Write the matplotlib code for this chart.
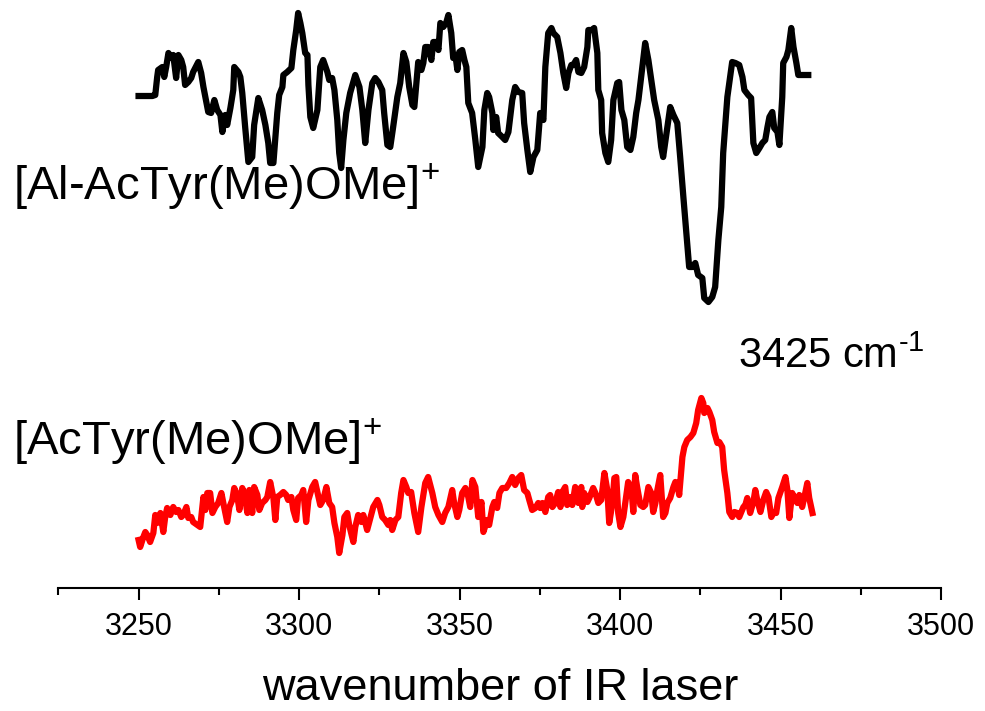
import matplotlib
matplotlib.use("Agg")
import matplotlib.pyplot as plt
from matplotlib.ticker import MultipleLocator

plt.rcParams['font.family'] = ['Liberation Sans', 'DejaVu Sans']
plt.rcParams['mathtext.fontset'] = 'custom'
plt.rcParams['mathtext.rm'] = 'Liberation Sans'
plt.rcParams['mathtext.it'] = 'Liberation Sans'

# Al-complex trace (arbitrary intensity units, offset upward)
al_wn = [3250.0, 3254.3, 3255.2, 3255.8, 3256.1, 3257.4, 3258.0, 3258.6, 3259.3, 3260.2,
         3260.8, 3261.7, 3262.4, 3263.3, 3263.9, 3264.5, 3265.5, 3266.4, 3267.0, 3268.6,
         3269.5, 3270.2, 3270.8, 3271.7, 3272.6, 3273.6, 3274.5, 3275.5, 3276.1, 3277.0,
         3277.6, 3278.6, 3279.5, 3279.8, 3281.1, 3281.7, 3282.3, 3283.2, 3284.2, 3285.4,
         3286.0, 3287.3, 3288.5, 3289.5, 3290.4, 3291.0, 3292.0, 3293.2, 3293.8, 3294.8,
         3295.1, 3296.3, 3297.6, 3298.2, 3299.1, 3299.7, 3300.4, 3301.0, 3301.9, 3302.6,
         3302.9, 3303.5, 3304.4, 3305.7, 3306.6, 3307.5, 3308.8, 3309.4, 3310.3, 3311.0,
         3311.9, 3312.5, 3313.1, 3313.8, 3314.7, 3315.9, 3317.5, 3318.8, 3319.7, 3320.6,
         3321.6, 3322.8, 3323.7, 3324.7, 3325.9, 3326.5, 3327.5, 3328.4, 3329.3, 3330.6,
         3331.5, 3332.5, 3333.4, 3334.3, 3335.3, 3335.9, 3336.8, 3337.1, 3338.1, 3338.7,
         3339.3, 3340.2, 3341.2, 3341.8, 3342.7, 3343.4, 3344.0, 3344.9, 3345.8, 3346.5,
         3347.4, 3348.0, 3348.7, 3349.3, 3349.9, 3350.8, 3351.5, 3352.1, 3352.7, 3353.9,
         3354.9, 3355.8, 3357.1, 3357.7, 3358.6, 3359.2, 3360.2, 3360.5, 3361.4, 3362.0,
         3363.3, 3364.2, 3365.2, 3366.4, 3367.3, 3368.3, 3369.5, 3370.1, 3371.1, 3372.0,
         3373.0, 3374.2, 3375.1, 3376.1, 3376.7, 3377.6, 3378.6, 3379.2, 3380.4, 3381.4,
         3382.3, 3383.2, 3383.9, 3384.8, 3385.4, 3386.3, 3387.0, 3387.9, 3388.8, 3389.8,
         3390.1, 3391.3, 3391.9, 3392.9, 3393.2, 3394.1, 3394.4, 3395.4, 3396.3, 3397.2,
         3397.9, 3399.1, 3399.7, 3400.4, 3401.3, 3402.2, 3403.2, 3404.1, 3405.0, 3405.7,
         3406.9, 3407.8, 3408.8, 3410.0, 3410.6, 3411.9, 3412.8, 3413.4, 3414.7, 3415.6,
         3416.6, 3417.8, 3418.7, 3419.7, 3420.9, 3421.5, 3422.5, 3423.4, 3424.3, 3425.6,
         3426.2, 3427.5, 3428.7, 3429.6, 3430.6, 3431.5, 3432.1, 3433.4, 3434.0, 3434.9,
         3435.9, 3437.1, 3438.1, 3438.7, 3439.9, 3440.8, 3441.5, 3442.4, 3443.4, 3444.3,
         3445.2, 3445.9, 3446.5, 3447.4, 3448.0, 3449.0, 3449.6, 3450.5, 3450.8, 3451.8,
         3452.4, 3453.3, 3454.0, 3454.9, 3455.5, 3458.6]
al_int = [492, 492, 493, 511, 518, 521, 511, 521, 535, 530,
          533, 510, 533, 528, 521, 503, 506, 510, 516, 526,
          515, 501, 491, 476, 475, 488, 478, 473, 456, 473,
          463, 480, 498, 521, 516, 511, 495, 461, 426, 431,
          463, 490, 478, 463, 445, 425, 425, 475, 493, 501,
          513, 516, 520, 538, 558, 575, 565, 555, 535, 533,
          503, 471, 460, 478, 521, 528, 516, 508, 510, 498,
          468, 435, 420, 448, 475, 495, 513, 501, 478, 445,
          478, 505, 510, 506, 498, 475, 443, 441, 461, 491,
          505, 535, 526, 501, 483, 481, 515, 526, 518, 525,
          541, 541, 528, 546, 546, 538, 565, 561, 565, 573,
          555, 530, 533, 518, 536, 538, 528, 521, 485, 475,
          448, 421, 441, 478, 495, 491, 475, 458, 471, 455,
          451, 448, 456, 488, 501, 496, 495, 465, 438, 416,
          431, 438, 475, 468, 521, 555, 560, 555, 551, 535,
          515, 500, 515, 523, 523, 528, 516, 515, 521, 541,
          558, 558, 560, 535, 498, 488, 455, 435, 426, 448,
          488, 505, 506, 478, 468, 441, 438, 451, 475, 488,
          521, 545, 528, 501, 488, 468, 441, 431, 461, 481,
          473, 465, 431, 391, 345, 321, 321, 325, 313, 310,
          290, 286, 291, 301, 348, 381, 435, 491, 505, 526,
          525, 523, 511, 498, 493, 490, 445, 435, 440, 445,
          448, 461, 471, 476, 460, 456, 443, 491, 525, 531,
          538, 560, 541, 525, 513, 513]

# bare ligand trace
lig_wn = [3250.0, 3250.5, 3251.5, 3252.1, 3252.7, 3253.6, 3254.6, 3255.2, 3255.8, 3256.8,
          3257.7, 3258.3, 3258.9, 3259.9, 3260.8, 3261.7, 3262.4, 3263.3, 3263.9, 3264.9,
          3265.5, 3266.4, 3267.0, 3268.3, 3269.2, 3270.2, 3270.8, 3271.4, 3272.3, 3273.0,
          3273.9, 3274.8, 3275.8, 3276.4, 3277.6, 3278.3, 3279.2, 3279.8, 3280.7, 3281.4,
          3282.3, 3282.9, 3283.9, 3284.5, 3285.4, 3286.0, 3287.0, 3287.6, 3288.5, 3289.5,
          3290.1, 3291.0, 3292.0, 3292.6, 3293.2, 3294.1, 3295.1, 3296.0, 3296.6, 3297.6,
          3298.2, 3299.1, 3299.7, 3300.7, 3301.3, 3302.2, 3302.9, 3304.1, 3305.0, 3305.7,
          3306.6, 3307.5, 3308.5, 3309.4, 3310.3, 3311.0, 3311.9, 3312.5, 3313.5, 3314.1,
          3315.0, 3315.6, 3316.9, 3317.5, 3318.4, 3319.4, 3320.0, 3321.2, 3322.2, 3323.1,
          3324.4, 3325.0, 3325.9, 3326.8, 3327.8, 3328.4, 3329.0, 3330.0, 3330.9, 3331.8,
          3332.5, 3333.4, 3334.0, 3334.9, 3335.9, 3337.1, 3338.1, 3339.3, 3340.2, 3341.5,
          3342.4, 3343.4, 3344.6, 3345.5, 3346.5, 3347.7, 3348.3, 3349.3, 3349.9, 3350.8,
          3351.8, 3352.7, 3353.3, 3354.0, 3354.9, 3355.8, 3356.8, 3357.4, 3358.6, 3359.2,
          3360.2, 3360.8, 3361.7, 3362.4, 3363.3, 3364.5, 3365.5, 3366.4, 3367.3, 3368.3,
          3369.2, 3370.1, 3371.1, 3371.7, 3372.6, 3373.6, 3374.5, 3375.1, 3375.8, 3376.7,
          3377.6, 3378.2, 3378.9, 3379.8, 3380.7, 3381.4, 3382.0, 3382.9, 3383.5, 3384.5,
          3385.1, 3386.0, 3387.0, 3387.9, 3388.2, 3388.8, 3389.8, 3390.4, 3391.6, 3392.3,
          3393.2, 3394.1, 3395.1, 3396.0, 3396.6, 3397.6, 3398.2, 3398.8, 3399.4, 3400.1,
          3401.0, 3401.6, 3402.5, 3403.5, 3404.1, 3404.7, 3405.3, 3406.3, 3407.2, 3407.8,
          3408.8, 3409.7, 3410.3, 3411.0, 3411.6, 3412.5, 3413.4, 3414.1, 3414.7, 3415.6,
          3416.6, 3417.2, 3417.8, 3418.4, 3419.4, 3420.0, 3420.9, 3421.9, 3422.8, 3423.7,
          3424.3, 3425.3, 3425.9, 3426.2, 3427.2, 3427.8, 3428.7, 3429.3, 3430.3, 3430.9,
          3431.8, 3432.4, 3433.4, 3434.0, 3434.9, 3435.6, 3436.5, 3437.1, 3438.4, 3439.0,
          3439.6, 3440.5, 3441.5, 3442.1, 3442.7, 3443.7, 3444.6, 3445.5, 3446.2, 3447.1,
          3447.7, 3448.6, 3449.3, 3450.5, 3451.5, 3452.1, 3452.7, 3453.6, 3454.3, 3455.2,
          3455.8, 3456.7, 3457.4, 3458.3, 3458.9, 3459.9]
lig_int = [48, 41, 51, 56, 53, 46, 55, 73, 65, 75,
           56, 71, 80, 73, 81, 76, 78, 71, 73, 81,
           70, 71, 66, 63, 61, 91, 78, 95, 95, 75,
           81, 85, 95, 85, 66, 81, 88, 100, 93, 78,
           100, 95, 75, 98, 75, 101, 93, 78, 85, 88,
           91, 106, 90, 68, 91, 93, 96, 93, 88, 91,
           78, 68, 90, 93, 98, 66, 88, 101, 106, 96,
           83, 88, 101, 85, 81, 65, 51, 35, 53, 71,
           75, 63, 46, 61, 73, 66, 73, 58, 70, 81,
           88, 83, 71, 68, 63, 68, 58, 68, 71, 95,
           108, 101, 95, 96, 75, 56, 81, 105, 111, 95,
           81, 73, 66, 75, 81, 98, 85, 71, 78, 95,
           100, 91, 81, 108, 101, 71, 86, 56, 68, 63,
           81, 86, 80, 95, 100, 100, 105, 111, 103, 110,
           113, 98, 95, 88, 78, 80, 85, 80, 85, 76,
           91, 93, 81, 85, 96, 81, 96, 101, 83, 91,
           83, 101, 85, 101, 81, 95, 86, 90, 100, 95,
           85, 88, 115, 98, 65, 85, 110, 111, 75, 61,
           71, 85, 106, 100, 76, 113, 101, 83, 81, 83,
           101, 95, 76, 85, 98, 113, 71, 75, 85, 90,
           101, 106, 105, 93, 131, 141, 148, 151, 155, 165,
           178, 190, 185, 175, 180, 176, 168, 156, 145, 146,
           141, 118, 95, 76, 71, 76, 75, 71, 81, 83,
           90, 75, 86, 98, 88, 76, 88, 96, 91, 71,
           75, 75, 90, 101, 111, 98, 70, 95, 90, 85,
           93, 81, 91, 105, 90, 75]

xticks = [3250, 3300, 3350, 3400, 3450, 3500]

fig = plt.figure(figsize=(9.85, 7.11), dpi=100)
ax = fig.add_axes([0.0592, 0.173, 0.8963, 0.827])

ax.plot(al_wn, al_int, color='black', lw=4.5, solid_joinstyle='round')
ax.plot(lig_wn, lig_int, color='#ff0000', lw=4.5, solid_joinstyle='round')

ax.set_xlim(3225, 3500)
ax.set_ylim(0, 588)
ax.set_xticks(xticks)
ax.xaxis.set_minor_locator(MultipleLocator(25))
ax.set_yticks([])
for s in ['top', 'right', 'left']:
    ax.spines[s].set_visible(False)
ax.spines['bottom'].set_linewidth(1.5)
ax.tick_params(axis='x', which='major', length=8.5, width=1.5, labelsize=22, pad=9)
ax.tick_params(axis='x', which='minor', length=5, width=1.5)

fig.text(0.013, 0.719, r'[Al-AcTyr(Me)OMe]$^{+}$', fontsize=34, va='baseline')
fig.text(0.013, 0.360, r'[AcTyr(Me)OMe]$^{+}$', fontsize=34, va='baseline')
fig.text(0.749, 0.482, r'3425 cm$^{\text{-}1}$', fontsize=30, va='baseline')
fig.text(0.5076, 0.0155, 'wavenumber of IR laser', fontsize=32.5, ha='center', va='baseline')

fig.savefig('out.png', dpi=100)
